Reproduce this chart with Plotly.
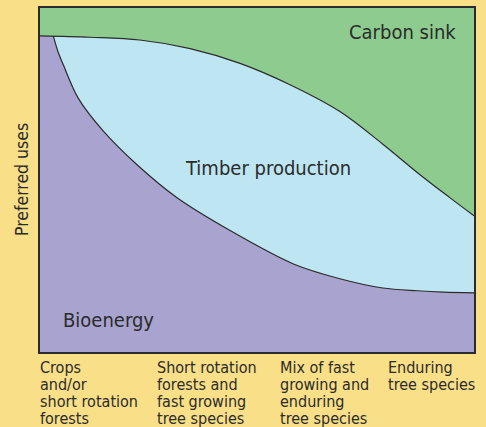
import plotly.graph_objects as go

# ---- data ----
bio_x = [3.06, 4.15, 5.4, 8.8, 14.6, 22.3, 31.5, 43.8, 58.4, 69.1, 79.0, 86.9, 93.0, 100.0]
bio_top = [91.9, 87.3, 83.4, 73.8, 64.2, 54.5, 44.9, 35.3, 25.6, 21.3, 18.6, 17.8, 17.4, 17.2]

timber_x = [0.0, 11.5, 23.0, 34.6, 46.1, 57.6, 69.1, 79.0, 86.9, 94.5, 100.0]
timber_top = [91.9, 91.5, 90.7, 88.2, 83.9, 77.7, 69.9, 60.4, 52.2, 44.8, 39.6]

stage_x = [0.0, 27.0, 55.3, 80.2]
stage_labels = [
    ["Crops", "and/or", "short rotation", "forests"],
    ["Short rotation", "forests and", "fast growing", "tree species"],
    ["Mix of fast", "growing and", "enduring", "tree species"],
    ["Enduring", "tree species"],
]

region_names = ["Bioenergy", "Timber production", "Carbon sink"]

# ---- styling ----
FONT = "DejaVu Sans Condensed, Liberation Sans Narrow, Arial Narrow, sans-serif"
TXT = "#2b2b2b"
BG = "#F8DF88"
PURPLE = "#A8A4CF"
BLUE = "#BEE5F2"
GREEN = "#8ECB8E"
EDGE = "#2b2b2b"

fig = go.Figure()

fig.add_trace(go.Scatter(
    x=bio_x, y=bio_top, mode="lines", line=dict(color=EDGE, width=1.2, shape="spline", smoothing=0.9),
    hoverinfo="skip", showlegend=False, name=region_names[0]))
fig.add_trace(go.Scatter(
    x=timber_x, y=timber_top, mode="lines", fill="tonexty", fillcolor=BLUE,
    line=dict(color=EDGE, width=1.2, shape="spline", smoothing=1),
    hoverinfo="skip", showlegend=False, name=region_names[1]))
fig.add_trace(go.Scatter(
    x=[0, 100], y=[100, 100], mode="lines", fill="tonexty", fillcolor=GREEN,
    line=dict(width=0), hoverinfo="skip", showlegend=False, name=region_names[2]))

annotations = [
    dict(text=region_names[2], x=96.3, y=93.1, xref="x", yref="y", xanchor="right", yanchor="middle",
         showarrow=False, font=dict(family=FONT, size=20, color=TXT)),
    dict(text=region_names[1], x=52.6, y=53.5, xref="x", yref="y", xanchor="center", yanchor="middle",
         showarrow=False, font=dict(family=FONT, size=20, color=TXT)),
    dict(text=region_names[0], x=4.8, y=9.3, xref="x", yref="y", xanchor="left", yanchor="middle",
         showarrow=False, font=dict(family=FONT, size=20, color=TXT)),
    dict(text="Preferred uses", x=0, y=0.5, xref="paper", yref="paper", xanchor="center", yanchor="middle",
         xshift=-18, textangle=-90, showarrow=False, font=dict(family=FONT, size=17.5, color=TXT)),
]
for sx, lines in zip(stage_x, stage_labels):
    for i, ln in enumerate(lines):
        annotations.append(dict(
            text=ln, x=sx, y=0, xref="x", yref="paper", xanchor="left", yanchor="middle",
            xshift=-2, yshift=-15 - 17 * i, showarrow=False,
            font=dict(family=FONT, size=16, color=TXT)))

fig.update_layout(
    width=486, height=427,
    margin=dict(l=40, r=12, t=6, b=75),
    paper_bgcolor=BG, plot_bgcolor=PURPLE,
    annotations=annotations,
    xaxis=dict(range=[0, 100], showgrid=False, zeroline=False, showticklabels=False, ticks="",
               showline=True, mirror=True, linecolor=EDGE, linewidth=2, fixedrange=True),
    yaxis=dict(range=[0, 100], showgrid=False, zeroline=False, showticklabels=False, ticks="",
               showline=True, mirror=True, linecolor=EDGE, linewidth=2, fixedrange=True),
)

fig.write_html("out.html", config={"displayModeBar": False},
               post_script="document.body.style.margin='0';")
